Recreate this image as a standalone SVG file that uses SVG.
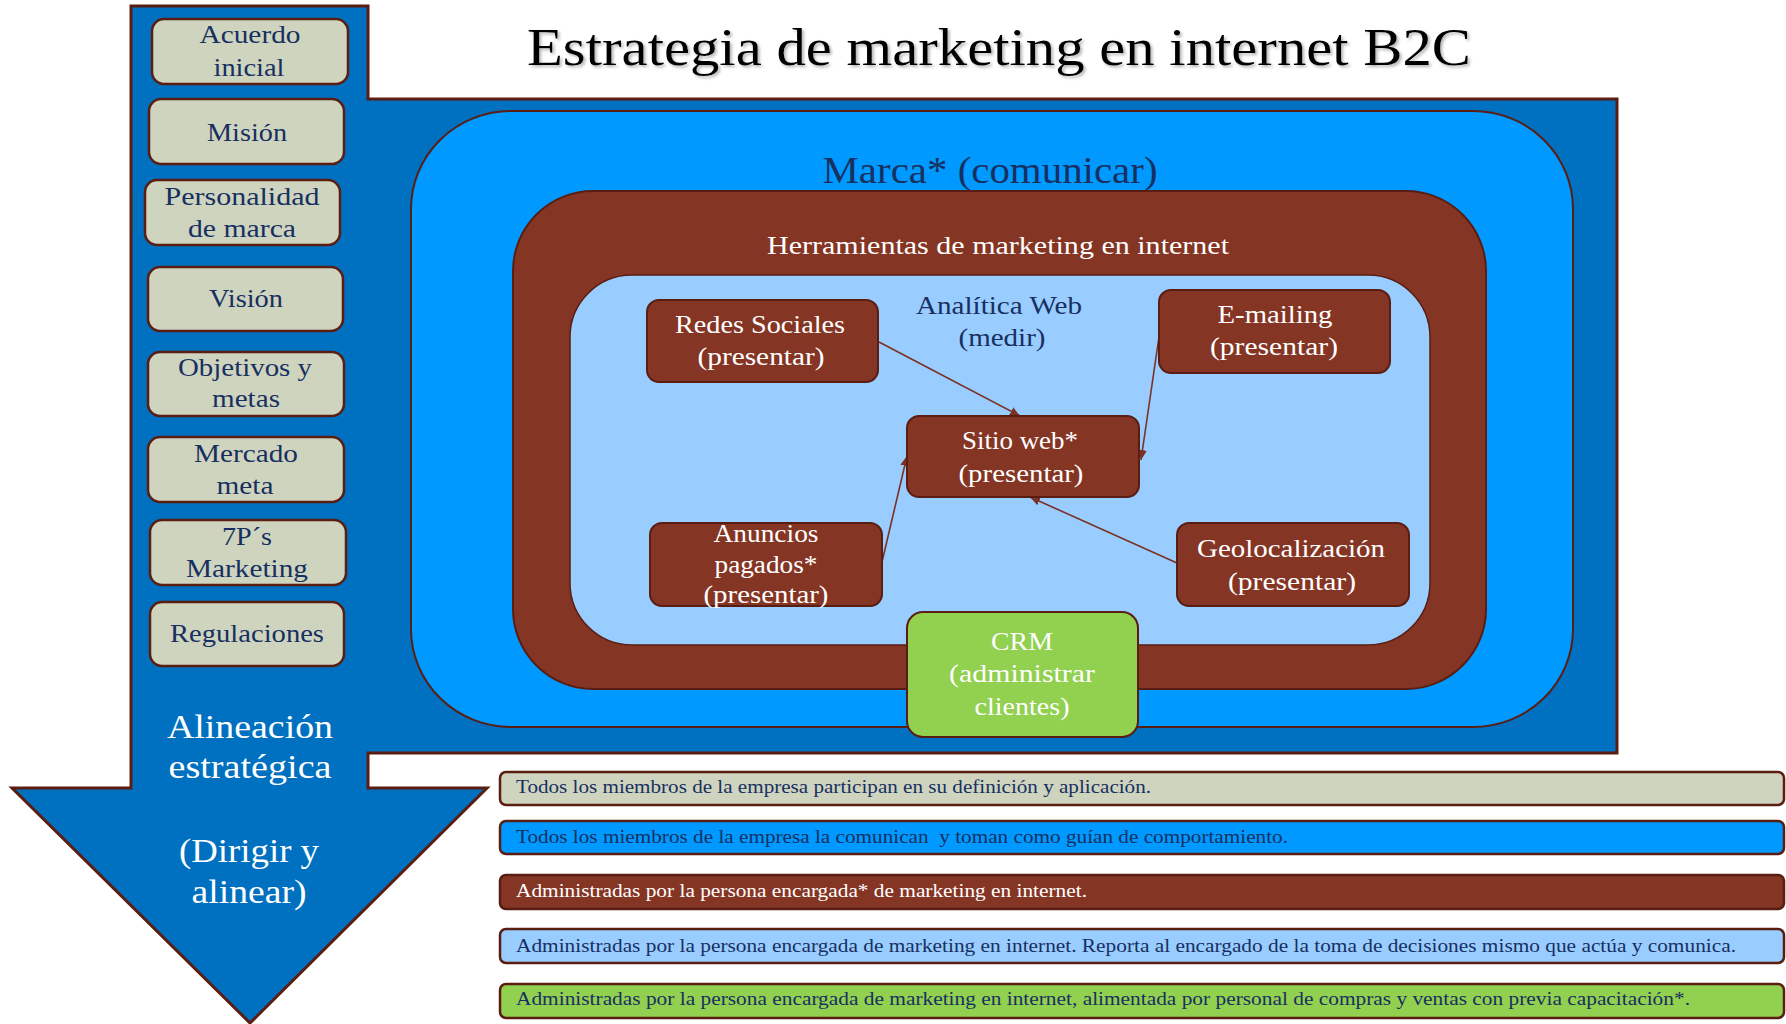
<svg xmlns="http://www.w3.org/2000/svg" width="1786" height="1024" viewBox="0 0 1786 1024">
  <defs>
    <style>
      .t { font-family: "Liberation Serif", "Times New Roman", serif; text-anchor: middle; }
      .tl { font-family: "Liberation Serif", "Times New Roman", serif; text-anchor: start; font-size: 18px; }
      .navy { fill: #17305f; }
      .wh { fill: #ffffff; }
      .side rect { fill: #cfd4bf; stroke: #5a1d12; stroke-width: 2.5; }
      .side text { font-size: 26px; }
      .tool rect { fill: #853524; stroke: #5a1d12; stroke-width: 2; }
      .tool text { font-size: 26px; }
      .conn line { stroke: #7b3123; stroke-width: 1.6; fill: none; marker-end: url(#arr); }
      .leg rect { stroke: #5a1d12; stroke-width: 2.5; }
    </style>
    <marker id="arr" markerUnits="userSpaceOnUse" markerWidth="12" markerHeight="10" refX="10" refY="4.5" orient="auto">
      <path d="M0,0 L10,4.5 L0,9 Z" fill="#7b3123"/>
    </marker>
    <filter id="shadow" x="-5%" y="-30%" width="110%" height="160%">
      <feDropShadow dx="2" dy="2" stdDeviation="1.5" flood-color="#777" flood-opacity="0.55"/>
    </filter>
  </defs>

  <rect x="0" y="0" width="1786" height="1024" fill="#ffffff"/>

  <!-- Title -->
  <g id="title">
    <text class="t" x="999" y="65" font-size="52" fill="#000" textLength="944" lengthAdjust="spacingAndGlyphs" filter="url(#shadow)">Estrategia de marketing en internet B2C</text>
  </g>

  <!-- Background strategic alignment arrow + main panel -->
  <g id="alineacion">
    <path d="M131,6 H368 V99 H1617 V753 H368 V788 H487 L250,1023 L12,788 H131 Z" fill="#0070c0" stroke="#5a1d12" stroke-width="3" stroke-linejoin="miter"/>
    <text class="t wh" x="250" y="738" font-size="34" textLength="166" lengthAdjust="spacingAndGlyphs">Alineación</text>
    <text class="t wh" x="250" y="778" font-size="34" textLength="163" lengthAdjust="spacingAndGlyphs">estratégica</text>
    <text class="t wh" x="249" y="862" font-size="34" textLength="140" lengthAdjust="spacingAndGlyphs">(Dirigir y</text>
    <text class="t wh" x="249" y="903" font-size="34" textLength="115" lengthAdjust="spacingAndGlyphs">alinear)</text>
  </g>

  <!-- Left column items -->
  <g id="acuerdo" class="side">
    <rect x="152" y="19" width="196" height="65" rx="12"/>
    <text class="t navy" x="250" y="43" textLength="101" lengthAdjust="spacingAndGlyphs">Acuerdo</text>
    <text class="t navy" x="249" y="76" textLength="71" lengthAdjust="spacingAndGlyphs">inicial</text>
  </g>
  <g id="mision" class="side">
    <rect x="149" y="99" width="195" height="65" rx="12"/>
    <text class="t navy" x="247" y="141" textLength="80" lengthAdjust="spacingAndGlyphs">Misión</text>
  </g>
  <g id="personalidad" class="side">
    <rect x="145" y="180" width="195" height="65" rx="12"/>
    <text class="t navy" x="242" y="205" textLength="155" lengthAdjust="spacingAndGlyphs">Personalidad</text>
    <text class="t navy" x="242" y="237" textLength="108" lengthAdjust="spacingAndGlyphs">de marca</text>
  </g>
  <g id="vision" class="side">
    <rect x="148" y="267" width="195" height="64" rx="12"/>
    <text class="t navy" x="246" y="307" textLength="74" lengthAdjust="spacingAndGlyphs">Visión</text>
  </g>
  <g id="objetivos" class="side">
    <rect x="148" y="352" width="196" height="64" rx="12"/>
    <text class="t navy" x="245" y="376" textLength="134" lengthAdjust="spacingAndGlyphs">Objetivos y</text>
    <text class="t navy" x="246" y="407" textLength="68" lengthAdjust="spacingAndGlyphs">metas</text>
  </g>
  <g id="mercado" class="side">
    <rect x="148" y="437" width="196" height="65" rx="12"/>
    <text class="t navy" x="246" y="462" textLength="104" lengthAdjust="spacingAndGlyphs">Mercado</text>
    <text class="t navy" x="245" y="494" textLength="57" lengthAdjust="spacingAndGlyphs">meta</text>
  </g>
  <g id="sietep" class="side">
    <rect x="150" y="520" width="196" height="65" rx="12"/>
    <text class="t navy" x="247" y="545" textLength="50" lengthAdjust="spacingAndGlyphs">7P´s</text>
    <text class="t navy" x="247" y="577" textLength="122" lengthAdjust="spacingAndGlyphs">Marketing</text>
  </g>
  <g id="regulaciones" class="side">
    <rect x="150" y="602" width="194" height="64" rx="12"/>
    <text class="t navy" x="247" y="642" textLength="154" lengthAdjust="spacingAndGlyphs">Regulaciones</text>
  </g>

  <!-- Nested areas -->
  <g id="marca">
    <rect x="411" y="111" width="1162" height="616" rx="100" ry="98" fill="#0099ff" stroke="#5a1d12" stroke-width="2"/>
    <text class="t navy" x="990" y="183" font-size="37" textLength="335" lengthAdjust="spacingAndGlyphs">Marca* (comunicar)</text>
  </g>
  <g id="herramientas">
    <rect x="513" y="191" width="973" height="498" rx="80" ry="80" fill="#853524" stroke="#5a1d12" stroke-width="2"/>
    <text class="t wh" x="998" y="254" font-size="25" textLength="462" lengthAdjust="spacingAndGlyphs">Herramientas de marketing en internet</text>
  </g>
  <g id="analitica">
    <rect x="570" y="275" width="860" height="370" rx="62" ry="62" fill="#99ccff" stroke="#5a1d12" stroke-width="1.5"/>
    <text class="t navy" x="999" y="314" font-size="26" textLength="166" lengthAdjust="spacingAndGlyphs">Analítica Web</text>
    <text class="t navy" x="1002" y="346" font-size="26" textLength="87" lengthAdjust="spacingAndGlyphs">(medir)</text>
  </g>

  <!-- Connectors -->
  <g id="connectors" class="conn">
    <line x1="879" y1="342" x2="1020" y2="416"/>
    <line x1="1160" y1="330" x2="1141" y2="460"/>
    <line x1="882" y1="562" x2="907" y2="456"/>
    <line x1="1177" y1="563" x2="1030" y2="497"/>
  </g>

  <!-- Tool nodes -->
  <g id="redes" class="tool">
    <rect x="647" y="300" width="231" height="82" rx="12"/>
    <text class="t wh" x="760" y="333" textLength="170" lengthAdjust="spacingAndGlyphs">Redes Sociales</text>
    <text class="t wh" x="761" y="365" textLength="127" lengthAdjust="spacingAndGlyphs">(presentar)</text>
  </g>
  <g id="emailing" class="tool">
    <rect x="1159" y="290" width="231" height="83" rx="12"/>
    <text class="t wh" x="1275" y="323" textLength="115" lengthAdjust="spacingAndGlyphs">E-mailing</text>
    <text class="t wh" x="1274" y="355" textLength="128" lengthAdjust="spacingAndGlyphs">(presentar)</text>
  </g>
  <g id="sitioweb" class="tool">
    <rect x="907" y="416" width="232" height="81" rx="12"/>
    <text class="t wh" x="1020" y="449" textLength="116" lengthAdjust="spacingAndGlyphs">Sitio web*</text>
    <text class="t wh" x="1021" y="482" textLength="125" lengthAdjust="spacingAndGlyphs">(presentar)</text>
  </g>
  <g id="anuncios" class="tool">
    <rect x="650" y="523" width="232" height="83" rx="12"/>
    <text class="t wh" x="766" y="542" textLength="105" lengthAdjust="spacingAndGlyphs">Anuncios</text>
    <text class="t wh" x="766" y="573" textLength="103" lengthAdjust="spacingAndGlyphs">pagados*</text>
    <text class="t wh" x="766" y="603" textLength="125" lengthAdjust="spacingAndGlyphs">(presentar)</text>
  </g>
  <g id="geolocalizacion" class="tool">
    <rect x="1177" y="523" width="232" height="83" rx="12"/>
    <text class="t wh" x="1291" y="557" textLength="188" lengthAdjust="spacingAndGlyphs">Geolocalización</text>
    <text class="t wh" x="1292" y="590" textLength="128" lengthAdjust="spacingAndGlyphs">(presentar)</text>
  </g>
  <g id="crm">
    <rect x="907" y="612" width="231" height="125" rx="16" fill="#92d050" stroke="#5a1d12" stroke-width="2"/>
    <text class="t wh" x="1022" y="650" font-size="26" textLength="62" lengthAdjust="spacingAndGlyphs">CRM</text>
    <text class="t wh" x="1022" y="682" font-size="26" textLength="146" lengthAdjust="spacingAndGlyphs">(administrar</text>
    <text class="t wh" x="1022" y="715" font-size="26" textLength="95" lengthAdjust="spacingAndGlyphs">clientes)</text>
  </g>

  <!-- Legend bars -->
  <g id="leyenda1" class="leg">
    <rect x="500" y="772" width="1284" height="33" rx="6" fill="#cfd4bf"/>
    <text class="tl navy" x="516" y="793" textLength="635" lengthAdjust="spacingAndGlyphs">Todos los miembros de la empresa participan en su definición y aplicación.</text>
  </g>
  <g id="leyenda2" class="leg">
    <rect x="500" y="821" width="1284" height="33" rx="6" fill="#0099ff"/>
    <text class="tl navy" x="516" y="843" textLength="772" lengthAdjust="spacingAndGlyphs" xml:space="preserve">Todos los miembros de la empresa la comunican  y toman como guían de comportamiento.</text>
  </g>
  <g id="leyenda3" class="leg">
    <rect x="500" y="875" width="1284" height="34" rx="6" fill="#853524"/>
    <text class="tl wh" x="516" y="897" textLength="571" lengthAdjust="spacingAndGlyphs">Administradas por la persona encargada* de marketing en internet.</text>
  </g>
  <g id="leyenda4" class="leg">
    <rect x="500" y="929" width="1284" height="34" rx="6" fill="#99ccff"/>
    <text class="tl navy" x="516" y="952" textLength="1220" lengthAdjust="spacingAndGlyphs">Administradas por la persona encargada de marketing en internet. Reporta al encargado de la toma de decisiones mismo que actúa y comunica.</text>
  </g>
  <g id="leyenda5" class="leg">
    <rect x="500" y="984" width="1284" height="34" rx="6" fill="#92d050"/>
    <text class="tl navy" x="516" y="1005" textLength="1174" lengthAdjust="spacingAndGlyphs">Administradas por la persona encargada de marketing en internet, alimentada por personal de compras y ventas con previa capacitación*.</text>
  </g>
</svg>
